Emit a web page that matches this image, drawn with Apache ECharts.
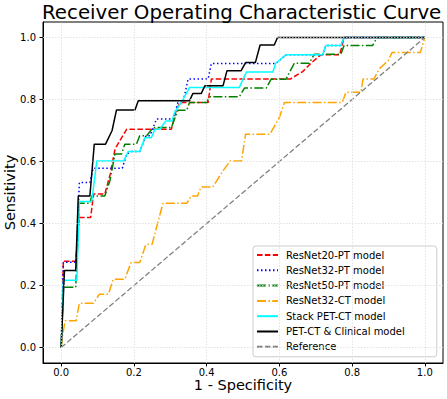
<!DOCTYPE html>
<html>
<head>
<meta charset="utf-8">
<style>
  html, body { margin: 0; padding: 0; background: #fff; }
  #roc_chart { width: 447px; height: 399px; }
</style>
<script src="https://cdn.jsdelivr.net/npm/echarts@6/dist/echarts.min.js"></script>
</head>
<body>
<div id="roc_chart"></div>
<script>
// ROC 곡선 데이터
var fprRes20 = [0, 0.006, 0.04, 0.05, 0.081, 0.089, 0.12, 0.135, 0.148, 0.18, 0.303, 0.315, 0.326, 0.404, 0.413, 0.63, 0.664, 0.685, 0.714, 0.766, 0.778, 1];
var tprRes20 = [0, 0.278, 0.278, 0.419, 0.419, 0.495, 0.495, 0.56, 0.64, 0.704, 0.704, 0.76, 0.79, 0.79, 0.866, 0.866, 0.89, 0.915, 0.944, 0.944, 1, 1];

var fprRes32 = [0, 0.006, 0.041, 0.05, 0.079, 0.088, 0.168, 0.18, 0.194, 0.216, 0.233, 0.244, 0.262, 0.308, 0.321, 0.335, 0.349, 0.404, 0.413, 0.59, 0.618, 0.719, 0.728, 0.769, 0.778, 1];
var tprRes32 = [0, 0.275, 0.275, 0.532, 0.532, 0.578, 0.578, 0.624, 0.632, 0.632, 0.683, 0.683, 0.737, 0.737, 0.79, 0.79, 0.866, 0.866, 0.916, 0.916, 0.944, 0.944, 0.974, 0.974, 1, 1];

var fprRes50 = [0, 0.006, 0.04, 0.05, 0.079, 0.084, 0.12, 0.134, 0.148, 0.166, 0.175, 0.207, 0.216, 0.235, 0.253, 0.303, 0.321, 0.345, 0.353, 0.4, 0.408, 0.49, 0.504, 0.564, 0.577, 0.618, 0.641, 0.682, 0.696, 0.769, 0.778, 0.856, 0.869, 1];
var tprRes50 = [0, 0.194, 0.194, 0.465, 0.465, 0.489, 0.489, 0.538, 0.624, 0.624, 0.656, 0.656, 0.683, 0.683, 0.71, 0.71, 0.765, 0.765, 0.79, 0.79, 0.809, 0.809, 0.837, 0.837, 0.865, 0.865, 0.917, 0.917, 0.946, 0.946, 0.974, 0.974, 1, 1];

var fprRes32Ct = [0, 0.004, 0.011, 0.041, 0.05, 0.089, 0.105, 0.13, 0.143, 0.175, 0.192, 0.216, 0.233, 0.25, 0.265, 0.28, 0.345, 0.358, 0.375, 0.385, 0.417, 0.445, 0.465, 0.496, 0.507, 0.574, 0.6, 0.614, 0.773, 0.783, 0.824, 0.83, 0.86, 0.874, 0.899, 0.91, 0.988, 1];
var tprRes32Ct = [0, 0.04, 0.086, 0.086, 0.143, 0.143, 0.172, 0.172, 0.22, 0.22, 0.274, 0.274, 0.333, 0.333, 0.4, 0.465, 0.465, 0.489, 0.489, 0.518, 0.518, 0.57, 0.602, 0.602, 0.688, 0.688, 0.742, 0.79, 0.79, 0.823, 0.823, 0.866, 0.866, 0.898, 0.925, 0.952, 0.952, 1];

var fprStack = [0, 0.006, 0.043, 0.05, 0.084, 0.098, 0.172, 0.184, 0.216, 0.23, 0.248, 0.258, 0.271, 0.288, 0.305, 0.312, 0.335, 0.353, 0.49, 0.5, 0.51, 0.582, 0.59, 0.618, 0.719, 0.728, 0.769, 0.778, 1];
var tprStack = [0, 0.217, 0.217, 0.471, 0.471, 0.602, 0.602, 0.632, 0.632, 0.677, 0.677, 0.704, 0.704, 0.731, 0.731, 0.758, 0.8, 0.839, 0.839, 0.866, 0.889, 0.889, 0.917, 0.944, 0.944, 0.974, 0.974, 1, 1];

var fprClinical = [0, 0.009, 0.04, 0.047, 0.079, 0.091, 0.122, 0.14, 0.152, 0.203, 0.212, 0.353, 0.362, 0.385, 0.395, 0.445, 0.456, 0.495, 0.507, 0.534, 0.547, 0.586, 0.595, 1];
var tprClinical = [0, 0.248, 0.248, 0.489, 0.489, 0.656, 0.656, 0.7, 0.766, 0.766, 0.796, 0.796, 0.819, 0.819, 0.844, 0.844, 0.893, 0.893, 0.919, 0.919, 0.976, 0.976, 1, 1];

var fprRef = [0, 1];
var tprRef = [0, 1];

var tickValues = [0, 0.2, 0.4, 0.6, 0.8, 1.0];

function toPairs(xs, ys) {
  var out = [];
  for (var i = 0; i < xs.length; i++) {
    out.push([xs[i], ys[i]]);
  }
  return out;
}

var fontFam = 'DejaVu Sans';

var domRoc = document.getElementById('roc_chart');
var myChartRoc = echarts.init(domRoc, null, {
  renderer: 'svg',
  useDirtyRect: false
});

// 격자선 (matplotlib grid 흉내)
var gridLines = [];
tickValues.forEach(function (v) {
  gridLines.push({ xAxis: v });
  gridLines.push({ yAxis: v });
});

function rocSeries(name, xs, ys, color, dash, width) {
  return {
    name: name,
    type: 'line',
    data: toPairs(xs, ys),
    symbol: 'none',
    z: 3,
    animation: false,
    itemStyle: { color: color },
    lineStyle: { color: color, width: width || 1.5, type: dash }
  };
}

var optionRoc = {
  animation: false,
  title: {
    text: 'Receiver Operating Characteristic Curve',
    left: 42,
    top: 2,
    padding: 0,
    textStyle: {
      fontFamily: fontFam,
      fontSize: 19.8,
      fontWeight: 'normal',
      color: '#000'
    }
  },
  grid: {
    left: 43,
    right: 4,
    top: 22,
    bottom: 36,
    outerBoundsMode: 'none',
    containLabel: false,
    show: true,
    borderColor: '#000',
    borderWidth: 1,
    backgroundColor: 'transparent'
  },
  legend: {
    data: ['ResNet20-PT model', 'ResNet32-PT model', 'ResNet50-PT model', 'ResNet32-CT model', 'Stack PET-CT model', 'PET-CT & Clinical model', 'Reference'],
    orient: 'vertical',
    left: 253,
    top: 246,
    padding: [4, 32, 5, 3],
    itemWidth: 21,
    itemHeight: 10,
    itemGap: 5.3,
    selectedMode: false,
    backgroundColor: 'rgba(255,255,255,0.8)',
    borderColor: '#cccccc',
    borderWidth: 1,
    borderRadius: 3,
    itemStyle: { opacity: 0 },
    textStyle: {
      fontFamily: fontFam,
      fontSize: 10,
      color: '#000',
      padding: [0, 0, 0, 3]
    }
  },
  xAxis: {
    type: 'value',
    min: -0.05,
    max: 1.05,
    name: '1 - Specificity',
    nameLocation: 'center',
    nameGap: 14,
    nameMoveOverlap: false,
    nameTextStyle: { fontFamily: fontFam, fontSize: 14.5, color: '#000' },
    axisLine: { show: true, onZero: false, lineStyle: { color: '#000', width: 1 } },
    axisTick: { show: true, length: 3.5, customValues: tickValues, lineStyle: { color: '#000' } },
    axisLabel: {
      customValues: tickValues,
      fontFamily: fontFam,
      fontSize: 10,
      color: '#000',
      margin: 4,
      formatter: function (v) { return v.toFixed(1); }
    },
    splitLine: { show: false }
  },
  yAxis: {
    type: 'value',
    min: -0.05,
    max: 1.05,
    name: 'Sensitivity',
    nameLocation: 'center',
    nameGap: 26,
    nameMoveOverlap: false,
    nameTextStyle: { fontFamily: fontFam, fontSize: 14.5, color: '#000' },
    axisLine: { show: true, onZero: false, lineStyle: { color: '#000', width: 1 } },
    axisTick: { show: true, length: 3.5, customValues: tickValues, lineStyle: { color: '#000' } },
    axisLabel: {
      customValues: tickValues,
      fontFamily: fontFam,
      fontSize: 10,
      color: '#000',
      margin: 7,
      formatter: function (v) { return v.toFixed(1); }
    },
    splitLine: { show: false }
  },
  series: [
    {
      name: 'grid',
      type: 'line',
      data: [],
      z: 1,
      silent: true,
      markLine: {
        silent: true,
        symbol: 'none',
        label: { show: false },
        animation: false,
        lineStyle: { color: '#dcdcdc', width: 0.8, type: [1.5, 1.5] },
        data: gridLines
      }
    },
    rocSeries('ResNet20-PT model', fprRes20, tprRes20, '#ff0000', [5.5, 2.4]),
    rocSeries('ResNet32-PT model', fprRes32, tprRes32, '#0000ff', [1.5, 2.5]),
    rocSeries('ResNet50-PT model', fprRes50, tprRes50, '#008000', [9, 2.4, 1.5, 2.4]),
    rocSeries('ResNet32-CT model', fprRes32Ct, tprRes32Ct, '#ffa500', [9, 2.4, 1.5, 2.4]),
    rocSeries('Stack PET-CT model', fprStack, tprStack, '#00ffff', 'solid'),
    rocSeries('PET-CT & Clinical model', fprClinical, tprClinical, '#000000', 'solid'),
    rocSeries('Reference', fprRef, tprRef, '#808080', [5.5, 2.4], 1.3)
  ]
};

if (optionRoc && typeof optionRoc === 'object') {
  myChartRoc.setOption(optionRoc);
}

window.addEventListener('resize', myChartRoc.resize);
</script>
</body>
</html>
